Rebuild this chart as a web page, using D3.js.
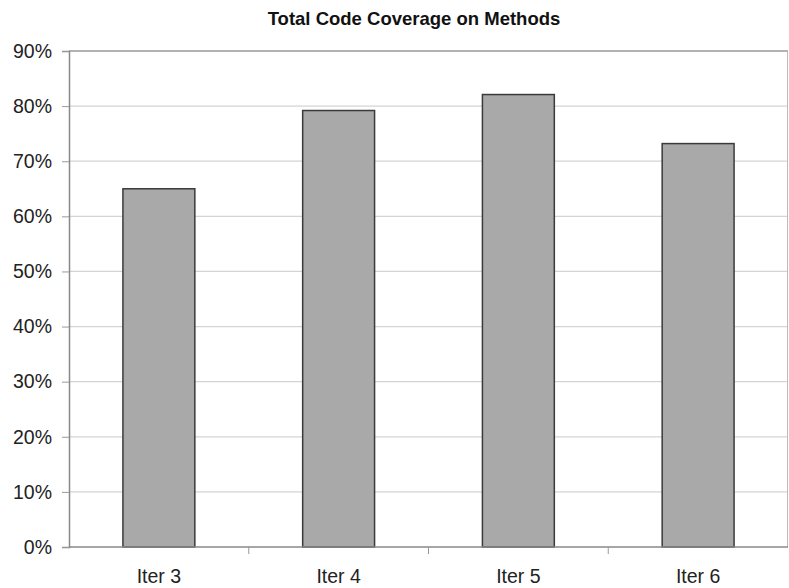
<!DOCTYPE html>
<html>
<head>
<meta charset="utf-8">
<script src="https://cdn.jsdelivr.net/npm/d3@7"></script>
<style>
  body { margin: 0; background: #fff; }
  text { font-family: "Liberation Sans", Arial, sans-serif; }
</style>
</head>
<body>
<div id="chart"></div>
<script>
var categories = ['Iter 3', 'Iter 4', 'Iter 5', 'Iter 6'];
var coverage = [0.65, 0.792, 0.821, 0.732];
var yTicks = [0, 0.1, 0.2, 0.3, 0.4, 0.5, 0.6, 0.7, 0.8, 0.9];

var width = 789,
    height = 588,
    margin = {top: 51, right: 1, bottom: 41, left: 69};

var svg = d3.select('#chart').append('svg')
    .attr('width', width).attr('height', height);

var x = d3.scaleBand()
    .domain(categories)
    .range([margin.left, width - margin.right])
    .paddingInner(0.6)
    .paddingOuter(0.3);

var y = d3.scaleLinear()
    .domain([0, 0.9])
    .range([height - margin.bottom, margin.top]);

// title
svg.append('text')
    .attr('x', 414).attr('y', 25)
    .attr('text-anchor', 'middle')
    .attr('font-size', 18.5).attr('font-weight', 'bold')
    .attr('fill', '#111')
    .text('Total Code Coverage on Methods');

// gridlines
svg.append('g')
  .selectAll('line').data(yTicks.slice(1)).enter().append('line')
    .attr('x1', margin.left).attr('x2', width - margin.right)
    .attr('y1', function(d) { return y(d); })
    .attr('y2', function(d) { return y(d); })
    .attr('stroke', function(d) { return d === 0.9 ? '#999' : '#d4d4d4'; })
    .attr('stroke-width', 1.3);

// right border
svg.append('line')
    .attr('x1', width - margin.right - 0.5).attr('x2', width - margin.right - 0.5)
    .attr('y1', y(0.9)).attr('y2', y(0))
    .attr('stroke', '#bbb');

// bars
svg.append('g')
  .selectAll('rect').data(coverage).enter().append('rect')
    .attr('x', function(d, i) { return x(categories[i]); })
    .attr('y', function(d) { return y(d); })
    .attr('width', x.bandwidth())
    .attr('height', function(d) { return y(0) - y(d); })
    .attr('fill', '#a9a9a9')
    .attr('stroke', '#3a3a3a')
    .attr('stroke-width', 1.5);

// y axis
var yAxis = svg.append('g')
    .attr('transform', 'translate(' + margin.left + ',0)')
    .call(d3.axisLeft(y).tickValues(yTicks).tickFormat(d3.format('.0%')).tickSize(7).tickPadding(10));
yAxis.select('.domain').attr('stroke', '#888').attr('stroke-width', 1.5);
yAxis.selectAll('.tick line').attr('stroke', '#999');
yAxis.selectAll('text').attr('font-size', 19.5).attr('fill', '#222')
    .attr('font-family', '"Liberation Sans", Arial, sans-serif');

// x axis with ticks on category boundaries
var xAxis = svg.append('g')
    .attr('transform', 'translate(0,' + y(0) + ')');
xAxis.append('line')
    .attr('x1', margin.left).attr('x2', width - margin.right)
    .attr('stroke', '#888').attr('stroke-width', 1.5);
var bounds = categories.map(function(c) { return x(c) - x.step() * x.paddingInner() / 2; });
bounds.push(width - margin.right);
xAxis.selectAll('.bound').data(bounds.slice(1, -1)).enter().append('line')
    .attr('class', 'bound')
    .attr('x1', function(d) { return d; }).attr('x2', function(d) { return d; })
    .attr('y1', 0).attr('y2', 7)
    .attr('stroke', '#999');
xAxis.selectAll('.lbl').data(categories).enter().append('text')
    .attr('class', 'lbl')
    .attr('x', function(d) { return x(d) + x.bandwidth() / 2; })
    .attr('y', 36)
    .attr('text-anchor', 'middle')
    .attr('font-size', 19.5).attr('fill', '#222')
    .text(function(d) { return d; });
</script>
</body>
</html>
